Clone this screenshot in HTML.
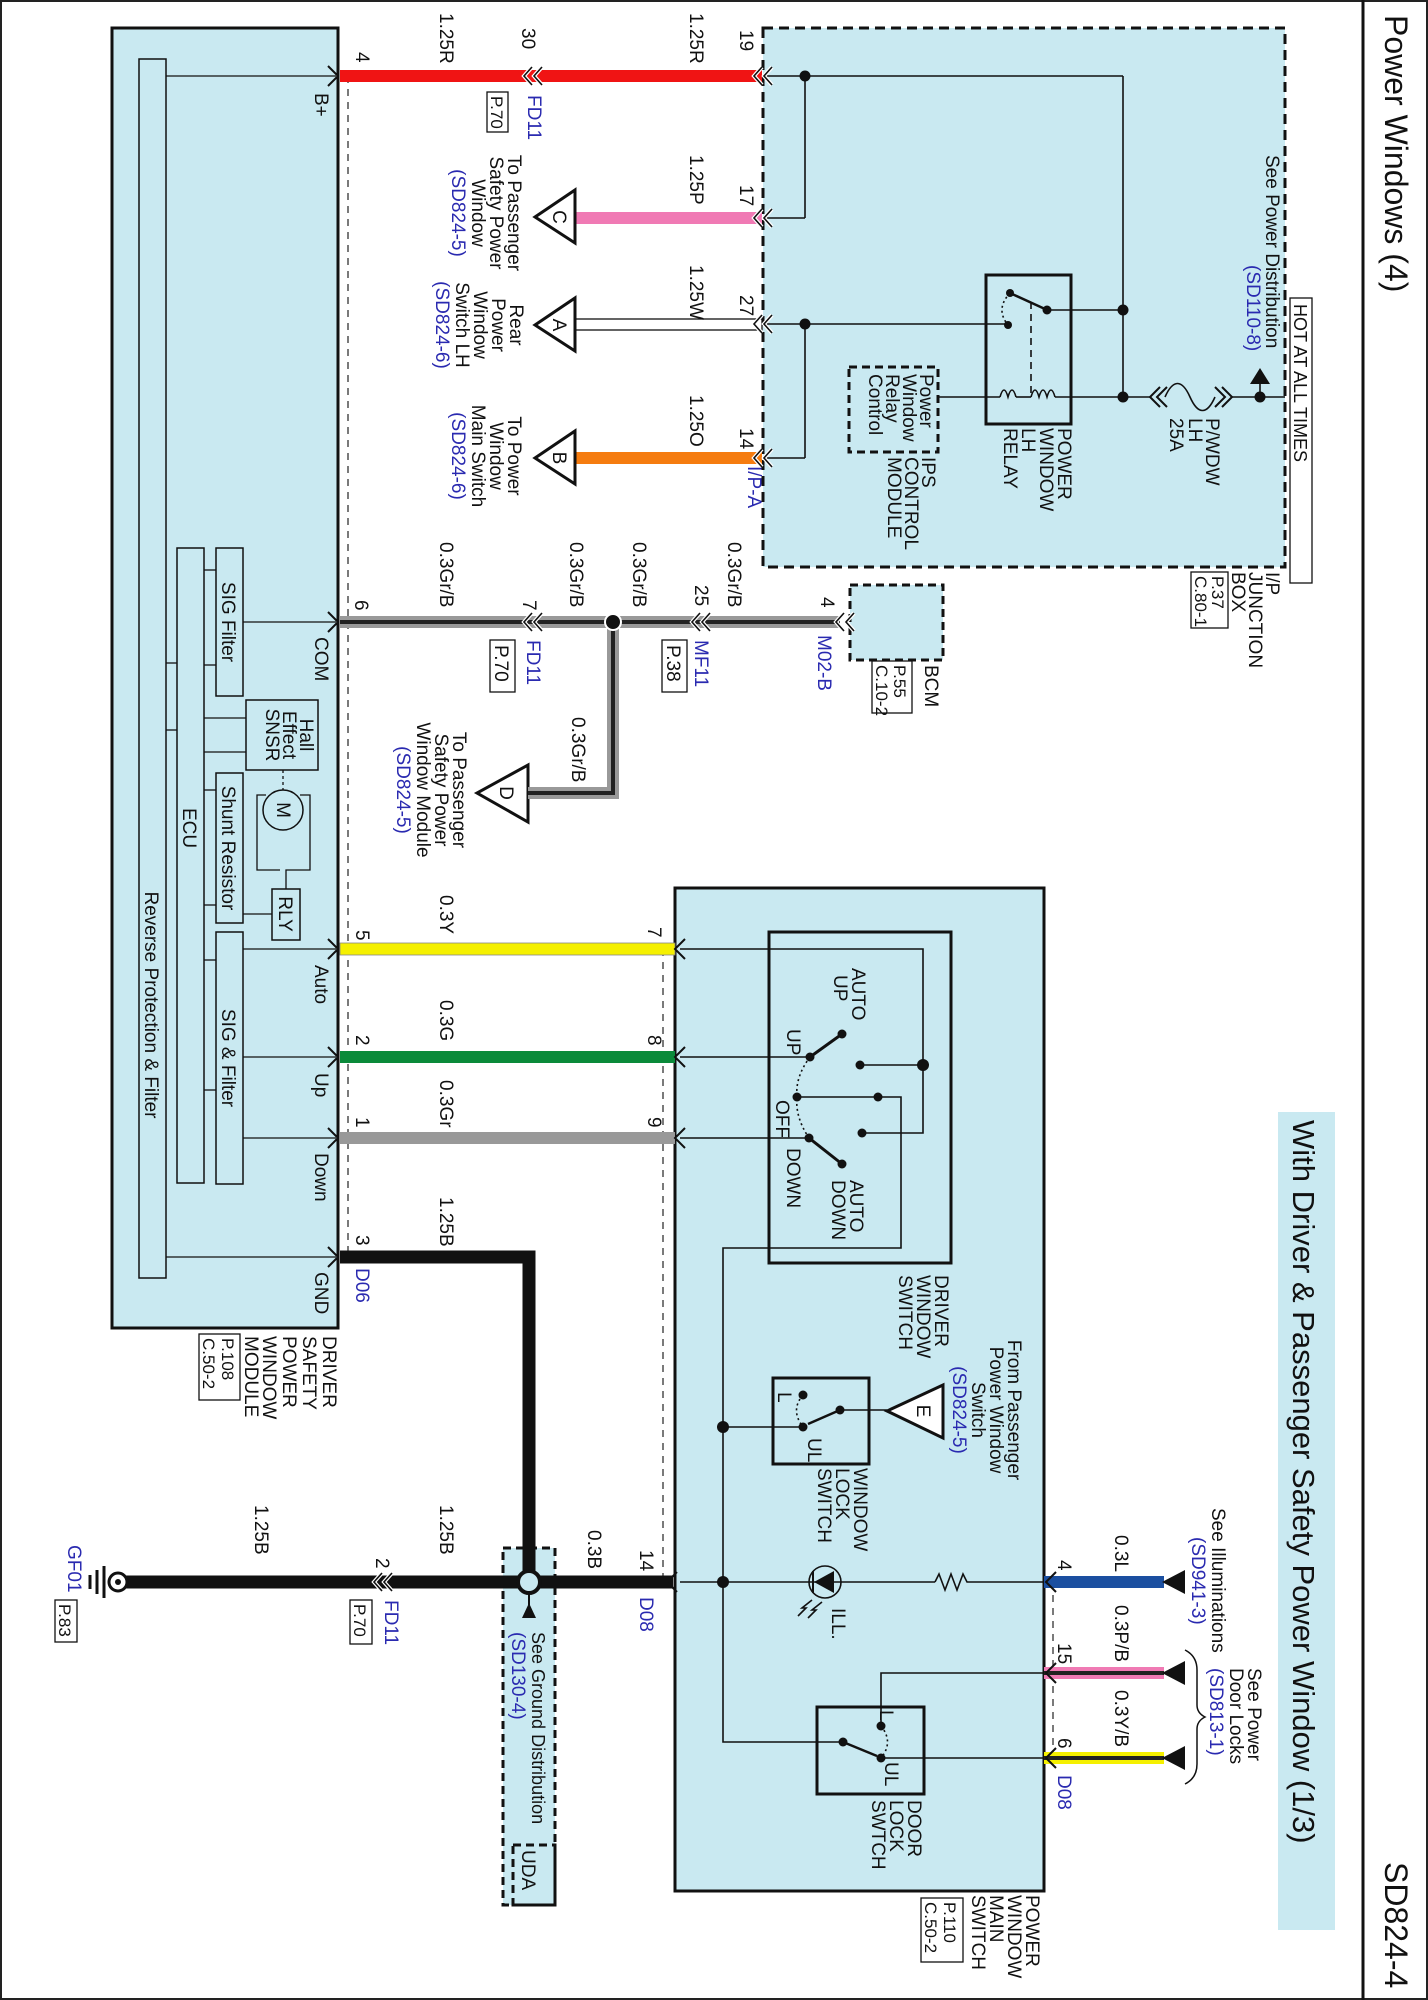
<!DOCTYPE html>
<html><head><meta charset="utf-8"><style>
html,body{margin:0;padding:0;background:#fff}
svg{display:block}
text{font-family:"Liberation Sans",Arial,sans-serif;font-size:19px;fill:#111}
.b{fill:#2a2ab0}
</style></head><body>
<svg width="1428" height="2000" viewBox="0 0 1428 2000" xmlns="http://www.w3.org/2000/svg">
<defs>
<g id="chev"><polyline points="10,-10 0,0 10,10" fill="none" stroke="#111" stroke-width="2"/></g>
<g id="chevr"><polyline points="-10,-10 0,0 -10,10" fill="none" stroke="#111" stroke-width="2"/></g>
<g id="dchev"><polyline points="8,-9 0,0 8,9" fill="none" stroke="#fff" stroke-width="4"/><polyline points="8,-9 0,0 8,9" fill="none" stroke="#111" stroke-width="1.6"/><polyline points="18,-9 10,0 18,9" fill="none" stroke="#fff" stroke-width="4"/><polyline points="18,-9 10,0 18,9" fill="none" stroke="#111" stroke-width="1.6"/></g>
</defs>
<!-- frame -->
<rect x="1" y="1" width="1426" height="1998" fill="none" stroke="#222" stroke-width="2"/>
<line x1="1363" y1="0" x2="1363" y2="2000" stroke="#111" stroke-width="3"/>
<text transform="translate(1385 15) rotate(90)" style="font-size:32px">Power Windows (4)</text>
<text transform="translate(1385 1862) rotate(90)" style="font-size:32px">SD824-4</text>
<rect x="1278" y="1112" width="57" height="818" fill="#c9e9f1"/>
<text transform="translate(1293 1120) rotate(90)" style="font-size:31px">With Driver &amp; Passenger Safety Power Window (1/3)</text>

<!-- Left module -->
<rect x="112" y="28" width="226" height="1300" fill="#c9e9f1" stroke="#111" stroke-width="3"/>
<rect x="139" y="59" width="27" height="1219" fill="#c9e9f1" stroke="#111" stroke-width="1.5"/>
<text transform="translate(145 1005) rotate(90)" text-anchor="middle">Reverse Protection &amp; Filter</text>
<rect x="177" y="548" width="27" height="635" fill="#c9e9f1" stroke="#111" stroke-width="1.5"/>
<text transform="translate(183 828) rotate(90)" text-anchor="middle">ECU</text>
<rect x="216" y="548" width="27" height="148" fill="#c9e9f1" stroke="#111" stroke-width="1.5"/>
<text transform="translate(222 622) rotate(90)" text-anchor="middle">SIG Filter</text>
<rect x="216" y="773" width="27" height="150" fill="#c9e9f1" stroke="#111" stroke-width="1.5"/>
<text transform="translate(222 848) rotate(90)" text-anchor="middle">Shunt Resistor</text>
<rect x="216" y="932" width="27" height="252" fill="#c9e9f1" stroke="#111" stroke-width="1.5"/>
<text transform="translate(222 1058) rotate(90)" text-anchor="middle">SIG &amp; Filter</text>
<rect x="246" y="700" width="72" height="70" fill="#c9e9f1" stroke="#111" stroke-width="1.5"/>
<text transform="translate(300 735) rotate(90)" text-anchor="middle">Hall</text>
<text transform="translate(283 735) rotate(90)" text-anchor="middle">Effect</text>
<text transform="translate(266 735) rotate(90)" text-anchor="middle">SNSR</text>
<circle cx="283" cy="810" r="20" fill="#c9e9f1" stroke="#111" stroke-width="1.5"/>
<text transform="translate(277 810) rotate(90)" text-anchor="middle">M</text>
<rect x="272" y="889" width="28" height="51" fill="#c9e9f1" stroke="#111" stroke-width="1.5"/>
<text transform="translate(279 914) rotate(90)" text-anchor="middle">RLY</text>
<g stroke="#111" stroke-width="1.3" fill="none">
<polyline points="300,795 310,795 310,870 286,870 286,889"/>
<polyline points="266,795 257,795 257,870 280,870"/>
<line x1="283" y1="770" x2="283" y2="790" stroke-dasharray="3 3"/>
<line x1="243" y1="914" x2="272" y2="914"/>
<line x1="166" y1="76" x2="336" y2="76"/>
<line x1="166" y1="1257" x2="336" y2="1257"/>
<line x1="243" y1="622" x2="336" y2="622"/>
<line x1="243" y1="949" x2="336" y2="949"/>
<line x1="243" y1="1057" x2="336" y2="1057"/>
<line x1="243" y1="1138" x2="336" y2="1138"/>
<line x1="204" y1="570" x2="216" y2="570"/><line x1="204" y1="665" x2="216" y2="665"/>
<line x1="204" y1="718" x2="246" y2="718"/><line x1="204" y1="752" x2="246" y2="752"/>
<line x1="204" y1="790" x2="216" y2="790"/><line x1="204" y1="905" x2="216" y2="905"/>
<line x1="204" y1="960" x2="216" y2="960"/><line x1="204" y1="1090" x2="216" y2="1090"/>
<line x1="166" y1="663" x2="177" y2="663"/><line x1="166" y1="730" x2="177" y2="730"/>
</g>
<text transform="translate(315 93) rotate(90)">B+</text>
<text transform="translate(315 637) rotate(90)">COM</text>
<text transform="translate(315 965) rotate(90)">Auto</text>
<text transform="translate(315 1073) rotate(90)">Up</text>
<text transform="translate(315 1153) rotate(90)">Down</text>
<text transform="translate(315 1272) rotate(90)">GND</text>
<text transform="translate(323 1336) rotate(90)">DRIVER</text>
<text transform="translate(303 1336) rotate(90)">SAFETY</text>
<text transform="translate(283 1336) rotate(90)">POWER</text>
<text transform="translate(263 1336) rotate(90)">WINDOW</text>
<text transform="translate(245 1336) rotate(90)">MODULE</text>
<rect x="199" y="1334" width="41" height="66" fill="none" stroke="#111" stroke-width="1.3"/>
<text transform="translate(222 1338) rotate(90)" style="font-size:17px">P.108</text>
<text transform="translate(203 1338) rotate(90)" style="font-size:17px">C.50-2</text>

<!-- dashed connector lines -->
<g stroke="#333" stroke-width="1.3" stroke-dasharray="7 6" fill="none">
<line x1="348" y1="76" x2="348" y2="1257"/>
<line x1="663" y1="949" x2="663" y2="1582"/>
<line x1="1053" y1="1582" x2="1053" y2="1758"/>
</g>

<!-- Junction box -->
<rect x="763" y="28" width="522" height="539" fill="#c9e9f1" stroke="#111" stroke-width="3" stroke-dasharray="10 6"/>
<rect x="1290" y="298" width="22" height="285" fill="#fff" stroke="#111" stroke-width="1.3"/>
<text transform="translate(1294 304) rotate(90)" style="font-size:18px">HOT AT ALL TIMES</text>
<text transform="translate(1266 155) rotate(90)">See Power Distribution</text>
<text class="b" transform="translate(1247 265) rotate(90)">(SD110-8)</text>
<g stroke="#111" stroke-width="1.6" fill="none">
<line x1="766" y1="76" x2="1123" y2="76"/>
<line x1="766" y1="218" x2="805" y2="218"/>
<line x1="805" y1="76" x2="805" y2="218"/>
<line x1="766" y1="324" x2="1008" y2="324"/>
<line x1="766" y1="458" x2="805" y2="458"/>
<line x1="805" y1="324" x2="805" y2="458"/>
<line x1="1123" y1="76" x2="1123" y2="397"/>
<line x1="1047" y1="310" x2="1123" y2="310"/>
<line x1="1010" y1="293" x2="1045" y2="309" stroke-width="2.5"/>
<path d="M1010 293 Q995 309 1008 325" stroke-dasharray="2 3"/>
<line x1="1031" y1="302" x2="1031" y2="395" stroke-dasharray="7 5"/>
<line x1="938" y1="397" x2="1000" y2="397"/>
<path d="M1000 397 q4 -14 8 0 q4 -14 8 0 M1031 397 q4 -14 8 0 q4 -14 8 0 q4 -14 8 0" />
<line x1="1016" y1="397" x2="1031" y2="397"/>
<line x1="1055" y1="397" x2="1150" y2="397"/>
<path d="M1165 397 c8 -18 17 -18 25 0 c8 18 17 18 25 0"/>
<line x1="1232" y1="397" x2="1285" y2="397"/>
<line x1="1260" y1="397" x2="1260" y2="380"/>
</g>
<polygon points="1250,384 1270,384 1260,368" fill="#111"/>
<use href="#chev" x="1150" y="397"/><use href="#chev" x="1157" y="397"/>
<use href="#chevr" x="1232" y="397"/><use href="#chevr" x="1225" y="397"/>
<rect x="986" y="275" width="85" height="149" fill="none" stroke="#111" stroke-width="3"/>
<g fill="#111"><circle cx="805" cy="76" r="5.5"/><circle cx="805" cy="324" r="5.5"/><circle cx="1123" cy="310" r="5.5"/><circle cx="1123" cy="397" r="5.5"/><circle cx="1260" cy="397" r="5.5"/><circle cx="1010" cy="293" r="4"/><circle cx="1047" cy="310" r="4.5"/><circle cx="1008" cy="325" r="4"/></g>
<rect x="849" y="367" width="89" height="85" fill="none" stroke="#111" stroke-width="3" stroke-dasharray="8 5"/>
<text transform="translate(920 374) rotate(90)">Power</text>
<text transform="translate(903 374) rotate(90)">Window</text>
<text transform="translate(886 374) rotate(90)">Relay</text>
<text transform="translate(869 374) rotate(90)">Control</text>
<text transform="translate(922 457) rotate(90)">IPS</text>
<text transform="translate(905 457) rotate(90)">CONTROL</text>
<text transform="translate(888 457) rotate(90)">MODULE</text>
<text transform="translate(1058 428) rotate(90)">POWER</text>
<text transform="translate(1040 428) rotate(90)">WINDOW</text>
<text transform="translate(1022 428) rotate(90)">LH</text>
<text transform="translate(1004 428) rotate(90)">RELAY</text>
<text transform="translate(1206 418) rotate(90)">P/WDW</text>
<text transform="translate(1189 418) rotate(90)">LH</text>
<text transform="translate(1170 418) rotate(90)">25A</text>
<text transform="translate(1266 572) rotate(90)">I/P</text>
<text transform="translate(1249 572) rotate(90)">JUNCTION</text>
<text transform="translate(1232 572) rotate(90)">BOX</text>
<rect x="1191" y="572" width="37" height="56" fill="none" stroke="#111" stroke-width="1.3"/>
<text transform="translate(1212 576) rotate(90)" style="font-size:17px">P.37</text>
<text transform="translate(1195 576) rotate(90)" style="font-size:17px">C.80-1</text>

<!-- BCM -->
<rect x="850" y="585" width="93" height="75" fill="#c9e9f1" stroke="#111" stroke-width="3" stroke-dasharray="8 5"/>
<text transform="translate(925 665) rotate(90)">BCM</text>
<rect x="872" y="661" width="40" height="52" fill="none" stroke="#111" stroke-width="1.3"/>
<text transform="translate(894 665) rotate(90)" style="font-size:17px">P.55</text>
<text transform="translate(876 665) rotate(90)" style="font-size:17px">C.10-2</text>

<!-- top wires -->
<rect x="340" y="70" width="422" height="12" fill="#f01414"/>
<rect x="575" y="212" width="187" height="12" fill="#f07ab4"/>
<rect x="575" y="319" width="187" height="11" fill="#fff" stroke="#111" stroke-width="1.3"/>
<rect x="575" y="452" width="187" height="12" fill="#f57c10"/>
<use href="#chevr" x="338" y="76"/>
<use href="#dchev" x="524" y="76"/>
<use href="#dchev" x="754" y="76"/><use href="#dchev" x="754" y="218"/><use href="#dchev" x="754" y="324"/><use href="#dchev" x="754" y="458"/>
<text transform="translate(440 13) rotate(90)">1.25R</text>
<text transform="translate(690 13) rotate(90)">1.25R</text>
<text transform="translate(356 52) rotate(90)">4</text>
<text transform="translate(522 28) rotate(90)">30</text>
<text transform="translate(740 30) rotate(90)">19</text>
<rect x="487" y="92" width="21" height="40" fill="none" stroke="#111" stroke-width="1.3"/>
<text transform="translate(491 96) rotate(90)" style="font-size:17px">P.70</text>
<text class="b" transform="translate(528 95) rotate(90)">FD11</text>
<text transform="translate(690 155) rotate(90)">1.25P</text>
<text transform="translate(740 185) rotate(90)">17</text>
<text transform="translate(690 265) rotate(90)">1.25W</text>
<text transform="translate(740 295) rotate(90)">27</text>
<text transform="translate(690 395) rotate(90)">1.25O</text>
<text transform="translate(740 428) rotate(90)">14</text>
<text class="b" transform="translate(748 466) rotate(90)">I/P-A</text>
<!-- triangles C A B -->
<g fill="#fff" stroke="#111" stroke-width="3">
<polygon points="575,190 575,243 535,217"/>
<polygon points="575,298 575,351 535,325"/>
<polygon points="575,431 575,484 535,458"/>
<polygon points="528,765 528,822 477,793"/>
</g>
<text transform="translate(553 217) rotate(90)" text-anchor="middle">C</text>
<text transform="translate(553 325) rotate(90)" text-anchor="middle">A</text>
<text transform="translate(553 458) rotate(90)" text-anchor="middle">B</text>
<text transform="translate(500 793) rotate(90)" text-anchor="middle">D</text>
<g text-anchor="middle">
<text transform="translate(508 213) rotate(90)">To Passenger</text>
<text transform="translate(490 213) rotate(90)">Safety Power</text>
<text transform="translate(472 213) rotate(90)">Window</text>
<text class="b" transform="translate(452 213) rotate(90)">(SD824-5)</text>
<text transform="translate(510 325) rotate(90)">Rear</text>
<text transform="translate(492 325) rotate(90)">Power</text>
<text transform="translate(474 325) rotate(90)">Window</text>
<text transform="translate(456 325) rotate(90)">Switch LH</text>
<text class="b" transform="translate(436 325) rotate(90)">(SD824-6)</text>
<text transform="translate(508 456) rotate(90)">To Power</text>
<text transform="translate(490 456) rotate(90)">Window</text>
<text transform="translate(472 456) rotate(90)">Main Switch</text>
<text class="b" transform="translate(452 456) rotate(90)">(SD824-6)</text>
<text transform="translate(453 790) rotate(90)">To Passenger</text>
<text transform="translate(435 790) rotate(90)">Safety Power</text>
<text transform="translate(417 790) rotate(90)">Window Module</text>
<text class="b" transform="translate(397 790) rotate(90)">(SD824-5)</text>
</g>

<!-- Gr/B wire -->
<g fill="none">
<polyline points="340,622 840,622" stroke="#999" stroke-width="12"/>
<polyline points="613,622 613,793 528,793" stroke="#999" stroke-width="12"/>
<polyline points="340,622 840,622" stroke="#222" stroke-width="4"/>
<polyline points="613,622 613,793 528,793" stroke="#222" stroke-width="4"/>
</g>
<circle cx="613" cy="622" r="8" fill="#111" stroke="#fff" stroke-width="2"/>
<use href="#chevr" x="338" y="622"/>
<use href="#dchev" x="524" y="622"/><use href="#dchev" x="692" y="622"/><use href="#dchev" x="836" y="622"/>
<text transform="translate(440 542) rotate(90)">0.3Gr/B</text>
<text transform="translate(570 542) rotate(90)">0.3Gr/B</text>
<text transform="translate(633 542) rotate(90)">0.3Gr/B</text>
<text transform="translate(728 542) rotate(90)">0.3Gr/B</text>
<text transform="translate(572 717) rotate(90)">0.3Gr/B</text>
<text transform="translate(355 600) rotate(90)">6</text>
<text transform="translate(523 600) rotate(90)">7</text>
<text transform="translate(695 585) rotate(90)">25</text>
<text transform="translate(821 597) rotate(90)">4</text>
<rect x="490" y="640" width="25" height="52" fill="none" stroke="#111" stroke-width="1.3"/>
<text transform="translate(495 645) rotate(90)">P.70</text>
<text class="b" transform="translate(527 640) rotate(90)">FD11</text>
<rect x="662" y="640" width="25" height="52" fill="none" stroke="#111" stroke-width="1.3"/>
<text transform="translate(667 645) rotate(90)">P.38</text>
<text class="b" transform="translate(695 640) rotate(90)">MF11</text>
<text class="b" transform="translate(818 635) rotate(90)">M02-B</text>

<!-- main switch -->
<rect x="675" y="888" width="369" height="1003" fill="#c9e9f1" stroke="#111" stroke-width="3"/>
<rect x="769" y="932" width="182" height="331" fill="none" stroke="#111" stroke-width="3"/>
<rect x="340" y="943" width="335" height="12" fill="#f5f000" stroke="#888" stroke-width="0.8"/>
<rect x="340" y="1051" width="335" height="12" fill="#0a8a3a"/>
<rect x="340" y="1132" width="335" height="12" fill="#999"/>
<use href="#chevr" x="338" y="949"/><use href="#chevr" x="338" y="1057"/><use href="#chevr" x="338" y="1138"/>
<use href="#chev" x="675" y="949"/><use href="#chev" x="675" y="1057"/><use href="#chev" x="675" y="1138"/>
<text transform="translate(356 930) rotate(90)">5</text>
<text transform="translate(648 927) rotate(90)">7</text>
<text transform="translate(440 895) rotate(90)">0.3Y</text>
<text transform="translate(356 1035) rotate(90)">2</text>
<text transform="translate(648 1035) rotate(90)">8</text>
<text transform="translate(440 1000) rotate(90)">0.3G</text>
<text transform="translate(356 1117) rotate(90)">1</text>
<text transform="translate(648 1117) rotate(90)">9</text>
<text transform="translate(440 1080) rotate(90)">0.3Gr</text>
<g stroke="#111" stroke-width="1.6" fill="none">
<polyline points="680,949 923,949 923,1133 862,1133"/>
<line x1="860" y1="1065" x2="923" y2="1065"/>
<line x1="680" y1="1057" x2="810" y2="1057"/>
<line x1="680" y1="1138" x2="809" y2="1138"/>
<polyline points="797,1097 901,1097 901,1248 723,1248 723,1742 843,1742"/>
<line x1="810" y1="1057" x2="842" y2="1034" stroke-width="3"/>
<line x1="809" y1="1138" x2="842" y2="1164" stroke-width="3"/>
<path d="M810 1057 Q795 1077 797 1097 Q795 1117 809 1138" stroke-dasharray="2 3"/>
<line x1="723" y1="1427" x2="803" y2="1427"/>
<line x1="887" y1="1410" x2="840" y2="1410"/>
<line x1="840" y1="1410" x2="808" y2="1424" stroke-width="2.5"/>
<path d="M803 1395 Q790 1410 803 1427" stroke-dasharray="2 3"/>
<line x1="843" y1="1742" x2="877" y2="1756" stroke-width="2.5"/>
<path d="M881 1726 Q894 1742 881 1758" stroke-dasharray="2 3"/>
<polyline points="881,1726 881,1673 1044,1673"/>
<line x1="881" y1="1758" x2="1044" y2="1758"/>
<line x1="680" y1="1582" x2="935" y2="1582"/>
<polyline points="935,1582 939,1574 945,1590 951,1574 957,1590 963,1574 967,1582 1044,1582"/>
<circle cx="825" cy="1582" r="16"/>
<line x1="813" y1="1571" x2="813" y2="1593" stroke-width="2"/>
<path d="M812 1600 l-10 8 l4 0 l-8 8 M822 1602 l-10 8 l4 0 l-8 8"/>
</g>
<polygon points="834,1571 834,1593 814,1582" fill="#111"/>
<g fill="#111"><circle cx="923" cy="1065" r="6"/><circle cx="860" cy="1065" r="4.5"/><circle cx="862" cy="1133" r="4.5"/><circle cx="878" cy="1097" r="4.5"/><circle cx="797" cy="1097" r="4.5"/><circle cx="810" cy="1057" r="4.5"/><circle cx="809" cy="1138" r="4.5"/><circle cx="842" cy="1034" r="4.5"/><circle cx="842" cy="1164" r="4.5"/>
<circle cx="723" cy="1427" r="6"/><circle cx="803" cy="1427" r="4.5"/><circle cx="803" cy="1395" r="4.5"/><circle cx="840" cy="1410" r="4.5"/>
<circle cx="723" cy="1582" r="6"/><circle cx="881" cy="1726" r="4.5"/><circle cx="881" cy="1758" r="4.5"/><circle cx="843" cy="1742" r="4.5"/></g>
<rect x="773" y="1378" width="96" height="86" fill="none" stroke="#111" stroke-width="3"/>
<rect x="817" y="1707" width="107" height="87" fill="none" stroke="#111" stroke-width="3"/>
<polygon points="943,1385 943,1438 887,1411" fill="#fff" stroke="#111" stroke-width="3"/>
<text transform="translate(917 1411) rotate(90)" text-anchor="middle">E</text>
<text transform="translate(852 968) rotate(90)">AUTO</text>
<text transform="translate(834 975) rotate(90)">UP</text>
<text transform="translate(787 1029) rotate(90)">UP</text>
<text transform="translate(776 1100) rotate(90)">OFF</text>
<text transform="translate(787 1148) rotate(90)">DOWN</text>
<text transform="translate(850 1180) rotate(90)">AUTO</text>
<text transform="translate(832 1180) rotate(90)">DOWN</text>
<text transform="translate(935 1275) rotate(90)">DRIVER</text>
<text transform="translate(917 1275) rotate(90)">WINDOW</text>
<text transform="translate(899 1275) rotate(90)">SWITCH</text>
<text transform="translate(778 1392) rotate(90)">L</text>
<text transform="translate(808 1438) rotate(90)">UL</text>
<text transform="translate(880 1710) rotate(90)">L</text>
<text transform="translate(885 1762) rotate(90)">UL</text>
<g text-anchor="middle">
<text transform="translate(1008 1410) rotate(90)">From Passenger</text>
<text transform="translate(990 1410) rotate(90)">Power Window</text>
<text transform="translate(972 1410) rotate(90)">Switch</text>
<text class="b" transform="translate(953 1410) rotate(90)">(SD824-5)</text>
</g>
<text transform="translate(854 1468) rotate(90)">WINDOW</text>
<text transform="translate(836 1468) rotate(90)">LOCK</text>
<text transform="translate(818 1468) rotate(90)">SWITCH</text>
<text transform="translate(832 1608) rotate(90)">ILL.</text>
<text transform="translate(908 1800) rotate(90)">DOOR</text>
<text transform="translate(890 1800) rotate(90)">LOCK</text>
<text transform="translate(872 1800) rotate(90)">SWTCH</text>
<text transform="translate(1026 1895) rotate(90)">POWER</text>
<text transform="translate(1008 1895) rotate(90)">WINDOW</text>
<text transform="translate(990 1895) rotate(90)">MAIN</text>
<text transform="translate(972 1895) rotate(90)">SWITCH</text>
<rect x="921" y="1898" width="42" height="64" fill="none" stroke="#111" stroke-width="1.3"/>
<text transform="translate(944 1902) rotate(90)" style="font-size:17px">P.110</text>
<text transform="translate(925 1902) rotate(90)" style="font-size:17px">C.50-2</text>

<!-- right side wires -->
<rect x="1044" y="1576" width="120" height="12" fill="#1b4fa0"/>
<rect x="1044" y="1667" width="120" height="12" fill="#f07ab4"/><rect x="1044" y="1671" width="120" height="4" fill="#222"/>
<rect x="1044" y="1752" width="120" height="12" fill="#f5f000"/><rect x="1044" y="1756" width="120" height="4" fill="#222"/>
<g fill="#111"><polygon points="1162,1582 1185,1570 1185,1594"/><polygon points="1162,1673 1185,1661 1185,1685"/><polygon points="1162,1758 1185,1746 1185,1770"/></g>
<use href="#chev" x="1046" y="1582"/><use href="#chev" x="1046" y="1673"/><use href="#chev" x="1046" y="1758"/>
<text transform="translate(1058 1560) rotate(90)">4</text>
<text transform="translate(1058 1643) rotate(90)">15</text>
<text transform="translate(1058 1738) rotate(90)">6</text>
<text class="b" transform="translate(1058 1775) rotate(90)">D08</text>
<text transform="translate(1115 1535) rotate(90)">0.3L</text>
<text transform="translate(1115 1605) rotate(90)">0.3P/B</text>
<text transform="translate(1115 1690) rotate(90)">0.3Y/B</text>
<text transform="translate(1212 1508) rotate(90)">See Illuminations</text>
<text class="b" transform="translate(1192 1537) rotate(90)">(SD941-3)</text>
<path d="M1185 1650 q12 6 12 20 v35 q0 8 8 12 q-8 4 -8 12 v35 q0 14 -12 20" fill="none" stroke="#111" stroke-width="1.5"/>
<text transform="translate(1248 1668) rotate(90)">See Power</text>
<text transform="translate(1230 1668) rotate(90)">Door Locks</text>
<text class="b" transform="translate(1210 1668) rotate(90)">(SD813-1)</text>

<!-- ground -->
<rect x="503" y="1548" width="52" height="357" fill="#c9e9f1" stroke="#111" stroke-width="3" stroke-dasharray="8 5"/>
<rect x="513" y="1845" width="42" height="60" fill="none" stroke="#111" stroke-width="3" stroke-dasharray="8 5"/>
<text transform="translate(522 1850) rotate(90)">UDA</text>
<text transform="translate(532 1632) rotate(90)" style="font-size:18px">See Ground Distribution</text>
<text class="b" transform="translate(512 1632) rotate(90)">(SD130-4)</text>
<g fill="none" stroke="#111">
<polyline points="340,1257 529,1257 529,1582" stroke-width="13"/>
<line x1="118" y1="1582" x2="673" y2="1582" stroke-width="13"/>
<line x1="529" y1="1590" x2="529" y2="1605" stroke-width="2"/>
</g>
<polygon points="529,1603 522,1618 536,1618" fill="#111"/>
<circle cx="529" cy="1582" r="11" fill="#c9e9f1" stroke="#111" stroke-width="4"/>
<use href="#chevr" x="338" y="1257"/>
<use href="#dchev" x="374" y="1582"/>
<use href="#chev" x="667" y="1582"/>
<circle cx="118" cy="1582" r="9" fill="#fff" stroke="#111" stroke-width="3"/>
<circle cx="118" cy="1582" r="3" fill="#111"/>
<g stroke="#111" stroke-width="3"><line x1="104" y1="1566" x2="104" y2="1598"/><line x1="97" y1="1570" x2="97" y2="1594"/><line x1="90" y1="1575" x2="90" y2="1589"/></g>
<text class="b" transform="translate(68 1545) rotate(90)">GF01</text>
<rect x="55" y="1600" width="22" height="42" fill="none" stroke="#111" stroke-width="1.3"/>
<text transform="translate(59 1604) rotate(90)" style="font-size:17px">P.83</text>
<text transform="translate(255 1505) rotate(90)">1.25B</text>
<text transform="translate(440 1505) rotate(90)">1.25B</text>
<text transform="translate(588 1530) rotate(90)">0.3B</text>
<text transform="translate(376 1558) rotate(90)">2</text>
<rect x="350" y="1600" width="22" height="44" fill="none" stroke="#111" stroke-width="1.3"/>
<text transform="translate(354 1604) rotate(90)" style="font-size:17px">P.70</text>
<text class="b" transform="translate(385 1600) rotate(90)">FD11</text>
<text transform="translate(640 1550) rotate(90)">14</text>
<text class="b" transform="translate(640 1597) rotate(90)">D08</text>
<text transform="translate(440 1197) rotate(90)">1.25B</text>
<text transform="translate(356 1235) rotate(90)">3</text>
<text class="b" transform="translate(356 1268) rotate(90)">D06</text>
</svg>
</body></html>
